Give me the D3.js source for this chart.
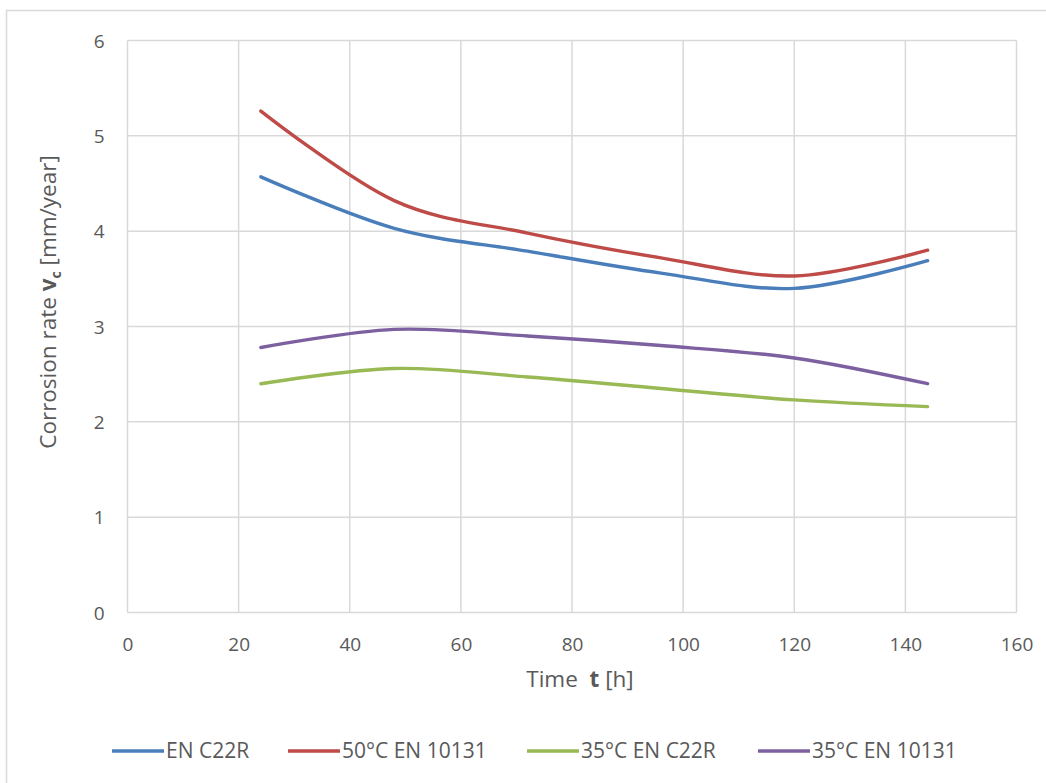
<!DOCTYPE html>
<html>
<head>
<meta charset="utf-8">
<script src="https://cdn.jsdelivr.net/npm/d3@7/dist/d3.min.js"></script>
<style>
  html, body { margin: 0; padding: 0; background: #fff; }
  svg { display: block; }
  text { font-family: "Open Sans", "Noto Sans", sans-serif; fill: #595959; }
</style>
</head>
<body>
<svg id="chart" width="1046" height="783"></svg>
<script>
// ---- data ----
const times = [24, 48, 72, 96, 120, 144];
const seriesNames = ["EN C22R", "50°C EN 10131", "35°C EN C22R", "35°C EN 10131"];
const enC22R      = [4.57, 4.03, 3.79, 3.56, 3.40, 3.69];
const en10131_50  = [5.26, 4.32, 3.98, 3.72, 3.53, 3.80];
const enC22R_35   = [2.40, 2.56, 2.47, 2.35, 2.23, 2.16];
const en10131_35  = [2.78, 2.97, 2.90, 2.80, 2.67, 2.40];
const xTicks = [0, 20, 40, 60, 80, 100, 120, 140, 160];
const yTicks = [0, 1, 2, 3, 4, 5, 6];
const colors = ["#4a7ebb", "#be4b48", "#98b954", "#7d60a0"];

const allSeries = [enC22R, en10131_50, enC22R_35, en10131_35];

const svg = d3.select("#chart");

// outer chart frame
svg.append("rect").attr("x", 6.5).attr("y", 10.5).attr("width", 1045).attr("height", 780)
  .attr("fill", "#fff").attr("stroke", "#d9d9d9").attr("stroke-width", 1.5);

const plot = { left: 127.5, right: 1016.5, top: 40.5, bottom: 612.5 };
const x = d3.scaleLinear().domain([0, 160]).range([plot.left, plot.right]);
const y = d3.scaleLinear().domain([0, 6]).range([plot.bottom, plot.top]);

// gridlines
const g = svg.append("g");
g.selectAll("line.hg").data(yTicks).join("line")
  .attr("x1", plot.left).attr("x2", plot.right)
  .attr("y1", d => y(d)).attr("y2", d => y(d))
  .attr("stroke", "#d9d9d9").attr("stroke-width", 1.5);
g.selectAll("line.vg").data(xTicks).join("line")
  .attr("x1", d => x(d)).attr("x2", d => x(d))
  .attr("y1", plot.top).attr("y2", plot.bottom)
  .attr("stroke", "#d9d9d9").attr("stroke-width", 1.5);

// axes (labels only)
const xAxis = d3.axisBottom(x).tickValues(xTicks).tickFormat(d3.format("d")).tickSize(0).tickPadding(24);
const yAxis = d3.axisLeft(y).tickValues(yTicks).tickFormat(d3.format("d")).tickSize(0).tickPadding(23);
const gx = svg.append("g").attr("transform", `translate(0,${plot.bottom})`).call(xAxis);
const gy = svg.append("g").attr("transform", `translate(${plot.left},0)`).call(yAxis);
[gx, gy].forEach(a => {
  a.select(".domain").remove();
  a.selectAll("text").style("font-family", '"Open Sans", sans-serif').style("font-size", "19px").attr("fill", "#595959");
});
gx.selectAll("text").attr("dy", "0.71em").attr("y", 25);
gy.selectAll("text").attr("dy", "0.35em");

// lines
const line = d3.line().x((d, i) => x(times[i])).y(d => y(d)).curve(d3.curveCatmullRom.alpha(0));
svg.append("g").selectAll("path").data(allSeries).join("path")
  .attr("d", d => line(d))
  .attr("fill", "none")
  .attr("stroke", (d, i) => colors[i])
  .attr("stroke-width", 3.4)
  .attr("stroke-linecap", "round");

// axis titles
const xt = svg.append("text").attr("x", 580).attr("y", 687).attr("text-anchor", "middle")
  .style("font-size", "22.5px");
xt.append("tspan").text("Time\u00a0\u00a0");
xt.append("tspan").attr("font-weight", "bold").text("t");
xt.append("tspan").text(" [h]");

const yt = svg.append("text").attr("transform", "translate(56,302) rotate(-90)")
  .attr("text-anchor", "middle").style("font-size", "22.5px");
yt.append("tspan").text("Corrosion rate ");
yt.append("tspan").attr("font-weight", "bold").text("v");
yt.append("tspan").attr("font-weight", "bold").attr("font-size", "14px").attr("dy", 5).text("c");
yt.append("tspan").attr("dy", -5).text(" [mm/year]");

// legend
const legX = [112, 288, 527, 758];
const leg = svg.append("g");
seriesNames.forEach((name, i) => {
  leg.append("line").attr("x1", legX[i]).attr("x2", legX[i] + 52)
    .attr("y1", 751).attr("y2", 751).attr("stroke", colors[i]).attr("stroke-width", 3.4);
  leg.append("text").attr("x", legX[i] + 54).attr("y", 751).attr("dy", "0.35em")
    .style("font-size", "21px").text(name);
});
</script>
</body>
</html>
